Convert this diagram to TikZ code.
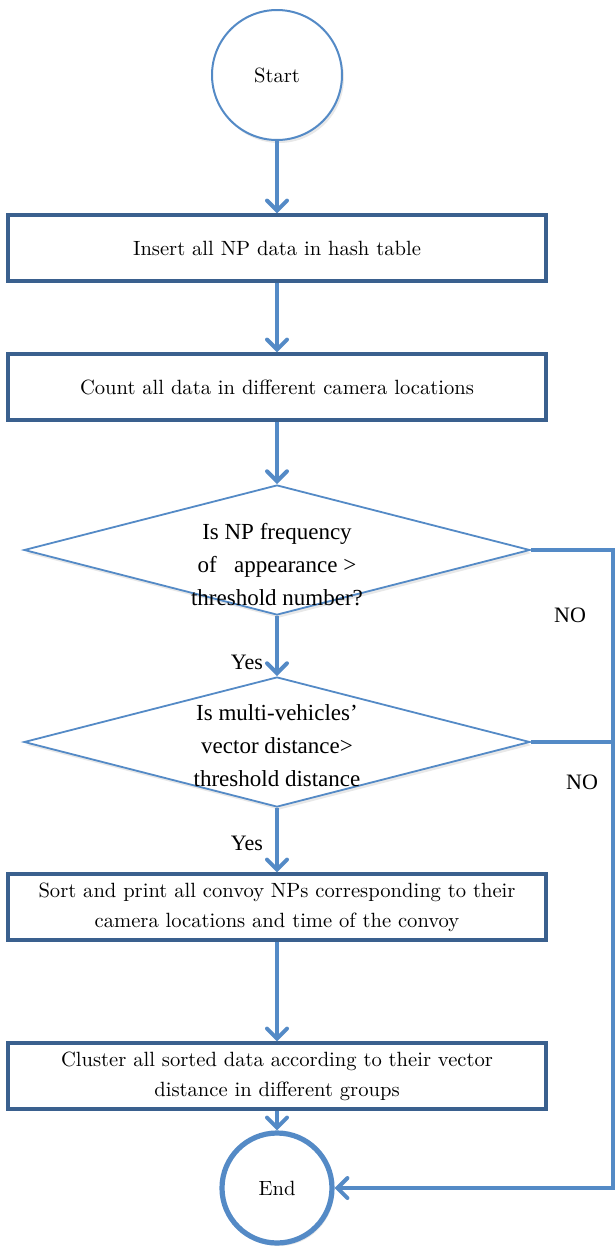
\documentclass[tikz,border=0pt]{standalone}
\usepackage{fontspec}
\newfontfamily\timesfont{Liberation Serif}
\usetikzlibrary{shapes.geometric,arrows.meta,shadows,positioning}

\definecolor{boxblue}{RGB}{58,96,142}
\definecolor{lineblue}{RGB}{84,138,198}

\tikzset{
  process/.style={draw=boxblue, fill=white, line width=1.6pt, minimum width=269pt,
    minimum height=33pt, inner sep=2pt, align=center, font=\fontsize{10.3}{15}\selectfont},
  terminal/.style={circle, draw=lineblue, fill=white, inner sep=0pt,
    drop shadow={opacity=0.18, shadow xshift=1pt, shadow yshift=-1.5pt},
    font=\fontsize{10.3}{12}\selectfont},
  decision/.style={diamond, draw=lineblue, fill=white, line width=0.9pt, inner sep=0pt,
    minimum width=253pt, minimum height=65pt,
    drop shadow={opacity=0.18, shadow xshift=1pt, shadow yshift=-1.5pt}},
  question/.style={align=center, font=\timesfont\fontsize{11.5}{16.5}\selectfont},
  answer/.style={font=\timesfont\fontsize{11}{13}\selectfont},
  flow/.style={draw=lineblue, line width=2pt,
    -{Straight Barb[length=5pt,width=10pt,line cap=round]}},
  branch/.style={draw=lineblue, line width=2pt},
}

\begin{document}
\begin{tikzpicture}[x=0.5pt, y=-0.5pt]
\useasboundingbox (0,0) rectangle (616,1254);

% start and the two plain steps
\node[terminal, line width=1pt, minimum size=65pt] (start) at (277,75) {Start};
\node[process] (insert) at (277,248) {Insert all NP data in hash table};
\node[process] (count) at (277,387) {Count all data in different camera locations};

% the two checks
\node[decision] (freq) at (277,550) {};
\node[question] (freqtext) at (277,565) {Is NP frequency\\of\ \ \ appearance >\\threshold number?};
\node[decision] (dist) at (277,742) {};
\node[question] (disttext) at (277,746) {Is multi-vehicles’\\vector distance>\\threshold distance};

% output steps and end
\node[process] (sort) at (277,907) {Sort and print all convoy NPs corresponding to their\\camera locations and time of the convoy};
\node[process] (cluster) at (277,1076) {Cluster all sorted data according to their vector\\distance in different groups};
\node[terminal, line width=2.6pt, minimum size=55pt] (end) at (277,1188) {End};

\coordinate (rail) at (613,550);

\node[answer] (yes1) at (247,662) {Yes};
\node[answer] (yes2) at (247,843) {Yes};
\node[answer] (no1) at (570,615) {NO};
\node[answer] (no2) at (582,782) {NO};

\draw[flow] (start) -- (insert);
\draw[flow] (insert) -- (count);
\draw[flow] (count) -- (freq);
\draw[flow] (freq) -- (dist);
\draw[flow] (dist) -- (sort);
\draw[flow] (sort) -- (cluster);
\draw[flow] (cluster) -- (end);
\draw[flow] (freq.east) -- (rail) |- (end);
\draw[branch] (dist.east) -- (dist.east -| rail);
\end{tikzpicture}
\end{document}
